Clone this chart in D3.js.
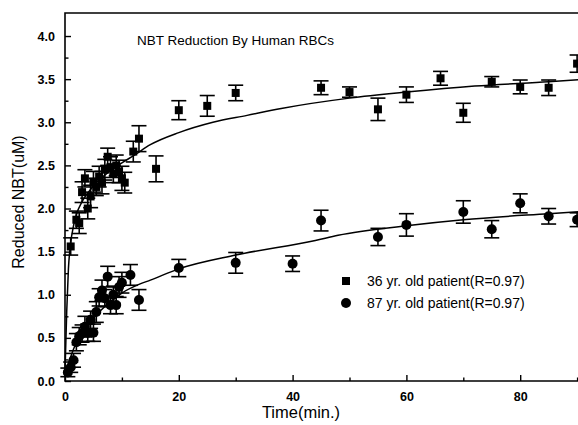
<!DOCTYPE html>
<html>
<head>
<meta charset="utf-8">
<script src="https://cdn.jsdelivr.net/npm/d3@7"></script>
<style>
  body { margin: 0; background: #fff; }
  svg { display: block; font-family: "Liberation Sans", Arial, sans-serif; }
</style>
</head>
<body>
<div id="chart"></div>
<script>
// 36 yr. old patient (squares)
const youngT   = [1, 2, 2.5, 3, 3.5, 4, 4.5, 5, 5.5, 6, 6.5, 7, 7.5, 8, 8.5, 9, 9.5, 10, 10.5, 12, 13, 16, 20, 25, 30, 45, 50, 55, 60, 66, 70, 75, 80, 85, 90]
const youngY   = [1.56, 1.87, 1.83, 2.19, 2.35, 2.0, 2.14, 2.31, 2.25, 2.37, 2.3, 2.45, 2.6, 2.48, 2.4, 2.5, 2.43, 2.35, 2.3, 2.66, 2.81, 2.46, 3.14, 3.19, 3.34, 3.4, 3.35, 3.15, 3.32, 3.51, 3.11, 3.47, 3.41, 3.4, 3.68]
const youngErr = [0.1, 0.1, 0.12, 0.12, 0.1, 0.12, 0.13, 0.12, 0.1, 0.12, 0.13, 0.12, 0.1, 0.12, 0.1, 0.12, 0.13, 0.14, 0.12, 0.12, 0.15, 0.15, 0.11, 0.12, 0.09, 0.08, 0.06, 0.13, 0.09, 0.08, 0.11, 0.06, 0.08, 0.09, 0.1]

// 87 yr. old patient (circles)
const oldT   = [0.5, 1, 1.5, 2, 2.5, 3, 3.5, 4, 4.5, 5, 5.5, 6, 6.5, 7, 7.5, 8, 8.5, 9, 9.5, 10, 11.5, 13, 20, 30, 40, 45, 55, 60, 70, 75, 80, 85, 90]
const oldY   = [0.1, 0.16, 0.24, 0.45, 0.52, 0.55, 0.63, 0.56, 0.71, 0.56, 0.8, 0.97, 1.05, 0.96, 1.21, 0.88, 1.0, 0.88, 1.09, 1.14, 1.23, 0.94, 1.31, 1.37, 1.36, 1.86, 1.67, 1.81, 1.96, 1.76, 2.06, 1.91, 1.87]
const oldErr = [0.05, 0.06, 0.08, 0.1, 0.1, 0.1, 0.12, 0.1, 0.1, 0.1, 0.12, 0.1, 0.12, 0.1, 0.12, 0.1, 0.1, 0.1, 0.12, 0.12, 0.12, 0.12, 0.1, 0.12, 0.09, 0.12, 0.1, 0.13, 0.13, 0.1, 0.11, 0.09, 0.08]

// fitted curves
const fitYoungT = [0, 0.3, 0.6, 1, 1.5, 2, 3, 4, 6, 8, 10, 12, 15, 20, 26, 32, 38, 50, 60, 72, 85, 92]
const fitYoungY = [0.1, 0.8, 1.3, 1.6, 1.8, 1.93, 2.08, 2.18, 2.33, 2.44, 2.53, 2.61, 2.74, 2.88, 3.0, 3.08, 3.16, 3.28, 3.35, 3.42, 3.47, 3.5]
const fitOldT = [0, 0.5, 1, 2, 4, 6, 8, 10, 13, 15, 20, 30, 44, 48, 60, 70, 85, 92]
const fitOldY = [0.05, 0.18, 0.28, 0.45, 0.65, 0.8, 0.92, 1.02, 1.12, 1.17, 1.3, 1.46, 1.63, 1.69, 1.8, 1.87, 1.94, 1.97]

const xMajor = [0, 20, 40, 60, 80]
const xMinor = [10, 30, 50, 70, 90]
const yMajor = [0, 0.5, 1, 1.5, 2, 2.5, 3, 3.5, 4]
const yMinor = [0.25, 0.75, 1.25, 1.75, 2.25, 2.75, 3.25, 3.75]

const legendLabels = ["36 yr. old patient(R=0.97)", "87 yr. old patient(R=0.97)"]
const titleText = "NBT Reduction By Human RBCs"

const width = 578, height = 425

const svg = d3.select('#chart').append('svg')
.attr('width', width)
.attr('height', height)

let xScale = d3.scaleLinear()
.domain([0, 92])
.range([65, 65 + 5.69 * 92])

let yScale = d3.scaleLinear()
.domain([0, 4.267])
.range([381, 13])

const young = youngT.map((t, i) => ({t: t, y: youngY[i], e: youngErr[i]}))
const old = oldT.map((t, i) => ({t: t, y: oldY[i], e: oldErr[i]}))

// frame (left, bottom, top; right side runs off the picture)
svg.append('path')
.attr('d', `M${xScale(92)},${yScale.range()[1]} H${xScale(0)} V${yScale.range()[0]} H${xScale(92)}`)
.attr('fill', 'none')
.attr('stroke', '#000')
.attr('stroke-width', 1.6)

// x axis ticks (inward)
let xaxis = svg.append('g')
.attr('transform', `translate(0,${yScale(0)})`)
.call(d3.axisBottom(xScale).tickValues(xMajor).tickSize(-6).tickPadding(11).tickFormat(d3.format('d')))
xaxis.select('.domain').remove()
xaxis.selectAll('text').attr('font-size', 12.5).attr('font-weight', 'bold').attr('font-family', 'Liberation Sans, Arial, sans-serif')

let xaxisMinor = svg.append('g')
.attr('transform', `translate(0,${yScale(0)})`)
.call(d3.axisBottom(xScale).tickValues(xMinor).tickSize(-3.5).tickFormat(''))
xaxisMinor.select('.domain').remove()

// y axis ticks (inward)
let yaxis = svg.append('g')
.attr('transform', `translate(${xScale(0)},0)`)
.call(d3.axisLeft(yScale).tickValues(yMajor).tickSize(-6).tickPadding(10).tickFormat(d3.format('.1f')))
yaxis.select('.domain').remove()
yaxis.selectAll('text').attr('font-size', 12.5).attr('font-weight', 'bold').attr('font-family', 'Liberation Sans, Arial, sans-serif')

let yaxisMinor = svg.append('g')
.attr('transform', `translate(${xScale(0)},0)`)
.call(d3.axisLeft(yScale).tickValues(yMinor).tickSize(-3.5).tickFormat(''))
yaxisMinor.select('.domain').remove()

svg.selectAll('.tick line').attr('stroke', '#000').attr('stroke-width', 1.4)

// axis titles
svg.append('text')
.attr('x', 301)
.attr('y', 418)
.attr('text-anchor', 'middle')
.attr('font-size', 16.5)
.text('Time(min.)')

svg.append('text')
.attr('transform', 'translate(24,202) rotate(-90)')
.attr('text-anchor', 'middle')
.attr('font-size', 16)
.text('Reduced NBT(uM)')

svg.append('text')
.attr('x', 137)
.attr('y', 45)
.attr('font-size', 13.5)
.text(titleText)

// fitted curves
const line = d3.line()
.curve(d3.curveMonotoneX)
.x(d => xScale(d[0]))
.y(d => yScale(d[1]))

let curves = svg.append('g')
curves.append('path')
.datum(fitYoungT.map((t, i) => [t, fitYoungY[i]]))
.attr('d', line)
.attr('fill', 'none')
.attr('stroke', '#000')
.attr('stroke-width', 1.5)

curves.append('path')
.datum(fitOldT.map((t, i) => [t, fitOldY[i]]))
.attr('d', line)
.attr('fill', 'none')
.attr('stroke', '#000')
.attr('stroke-width', 1.5)

// error bars
const drawErrors = (data) => {
	let g = svg.append('g').attr('stroke', '#000').attr('stroke-width', 1.6)
	data.forEach(d => {
		let x = xScale(d.t), y0 = yScale(d.y - d.e), y1 = yScale(d.y + d.e)
		g.append('line').attr('x1', x).attr('x2', x).attr('y1', y0).attr('y2', y1)
		g.append('line').attr('x1', x - 7.5).attr('x2', x + 7.5).attr('y1', y0).attr('y2', y0)
		g.append('line').attr('x1', x - 7.5).attr('x2', x + 7.5).attr('y1', y1).attr('y2', y1)
	})
}
drawErrors(young)
drawErrors(old)

svg.append('g')
.selectAll('rect')
.data(young)
.enter()
.append('rect')
.attr('x', d => xScale(d.t) - 4)
.attr('y', d => yScale(d.y) - 4)
.attr('width', 8)
.attr('height', 8)
.attr('fill', '#000')

svg.append('g')
.selectAll('circle')
.data(old)
.enter()
.append('circle')
.attr('cx', d => xScale(d.t))
.attr('cy', d => yScale(d.y))
.attr('r', 5)
.attr('fill', '#000')

// legend
let legend = svg.append('g')
legend.append('rect').attr('x', 342).attr('y', 277).attr('width', 8).attr('height', 8).attr('fill', '#000')
legend.append('circle').attr('cx', 346).attr('cy', 303).attr('r', 5).attr('fill', '#000')
legend.selectAll('text')
.data(legendLabels)
.enter()
.append('text')
.attr('x', 367)
.attr('y', (d, i) => 286 + i * 22)
.attr('font-size', 14)
.text(d => d)
</script>
</body>
</html>
